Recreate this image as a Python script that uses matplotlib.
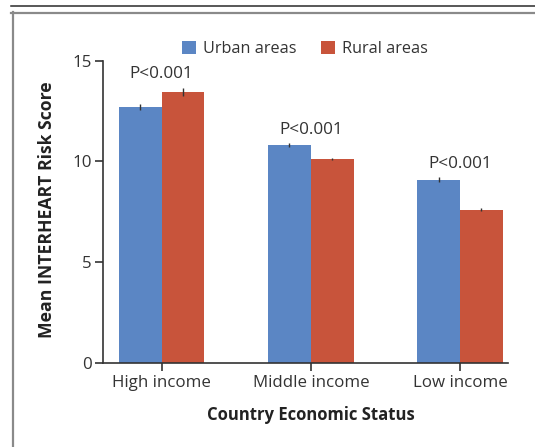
import matplotlib
matplotlib.use("Agg")
import matplotlib.pyplot as plt
import matplotlib.patches as patches
from matplotlib.lines import Line2D
import numpy as np

plt.rcParams['font.family'] = ['Open Sans', 'DejaVu Sans']

# data
groups = ["High income", "Middle income", "Low income"]
urban = [12.70, 10.81, 9.08]
rural = [13.45, 10.12, 7.59]
urban_err = [0.15, 0.08, 0.12]
rural_err = [0.20, 0.07, 0.08]
p_labels = ["P<0.001", "P<0.001", "P<0.001"]
series_names = ["Urban areas", "Rural areas"]

blue = "#5b86c4"
red = "#c8543b"
dark = "#333333"

W, H = 535, 447
fig = plt.figure(figsize=(W / 100, H / 100), dpi=100)
fig.patch.set_facecolor("white")

# axes placed in pixel terms
left, right, top, bottom = 103.3, 508.0, 60.7, 362.7
ax = fig.add_axes([left / W, 1 - bottom / H, (right - left) / W, (bottom - top) / H])

x = np.arange(len(groups))
w = 0.286
ax.bar(x - w / 2, urban, w, color=blue, edgecolor="none")
ax.bar(x + w / 2, rural, w, color=red, edgecolor="none")
ax.errorbar(x - w / 2, urban, yerr=urban_err, fmt="none", ecolor=dark, elinewidth=1, capsize=0)
ax.errorbar(x + w / 2, rural, yerr=rural_err, fmt="none", ecolor=dark, elinewidth=1, capsize=0)

"""P value labels above each pair"""
for i in range(len(groups)):
    ytop = max(urban[i] + urban_err[i], rural[i] + rural_err[i])
    ax.text(x[i], ytop + 0.47, p_labels[i], ha="center", va="baseline",
            fontsize=12.3, color=dark, clip_on=False)

ax.set_xlim(-0.391, 2.3215)
ax.set_ylim(0, 15)
ax.set_yticks([0, 5, 10, 15])
ax.set_xticks(x)
ax.set_xticklabels(groups)

for s in ["top", "right"]:
    ax.spines[s].set_visible(False)
for s in ["left", "bottom"]:
    ax.spines[s].set_color(dark)
    ax.spines[s].set_linewidth(1.2)
ax.tick_params(direction="out", length=6, width=1.2, color=dark,
               labelcolor=dark, labelsize=12.2, pad=2.5)

ax.set_ylabel("Mean INTERHEART Risk Score", fontsize=12.7, fontweight="bold", color="#222222")
ax.yaxis.set_label_coords(-0.118, 0.506)
ax.set_xlabel("Country Economic Status", fontsize=12, fontweight="bold", color="#222222")
ax.xaxis.set_label_coords(0.512, -0.145)

handles = [patches.Patch(facecolor=blue, edgecolor="none"),
           patches.Patch(facecolor=red, edgecolor="none")]
fig.legend(handles, series_names, loc="center left",
           bbox_to_anchor=(181.7 / W, 1 - 48.8 / H), ncol=2, frameon=False,
           fontsize=11.7, handlelength=0.88, handleheight=0.88, handletextpad=0.42,
           columnspacing=1.5, borderpad=0, borderaxespad=0, labelcolor=dark)

"""frame lines around the figure"""
fig.add_artist(Line2D([11 / W, 1], [1 - 5.5 / H, 1 - 5.5 / H], transform=fig.transFigure,
                      color="#2a2a2a", lw=1.1))
fig.add_artist(Line2D([11 / W, 1], [1 - 13 / H, 1 - 13 / H], transform=fig.transFigure,
                      color="#8a8a8a", lw=1.6))
fig.add_artist(Line2D([12.5 / W, 12.5 / W], [0, 1 - 12.2 / H], transform=fig.transFigure,
                      color="#8a8a8a", lw=1.6))

fig.savefig("out.png", dpi=100)
